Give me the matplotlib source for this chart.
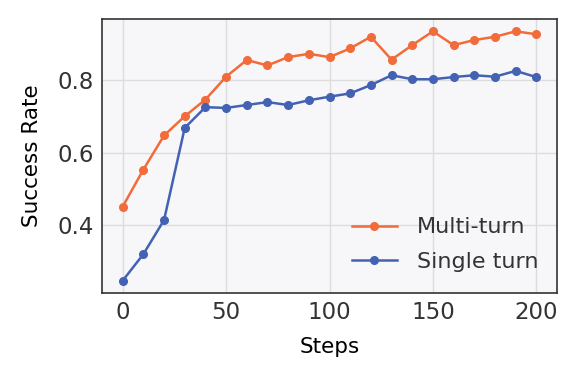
import matplotlib.pyplot as plt

steps = [0, 10, 20, 30, 40, 50, 60, 70, 80, 90, 100,
         110, 120, 130, 140, 150, 160, 170, 180, 190, 200]
multi_turn = [0.452, 0.554, 0.648, 0.701, 0.747, 0.810, 0.856, 0.841, 0.864, 0.873, 0.864,
              0.888, 0.920, 0.857, 0.897, 0.935, 0.897, 0.911, 0.920, 0.935, 0.927]
single_turn = [0.248, 0.321, 0.415, 0.669, 0.726, 0.724, 0.732, 0.740, 0.732, 0.745, 0.755,
               0.764, 0.787, 0.814, 0.803, 0.803, 0.809, 0.814, 0.810, 0.826, 0.809]

fig = plt.figure(figsize=(5.82, 3.8), dpi=100)
ax = fig.add_axes([102 / 582, 1 - 293 / 380, 455 / 582, 274 / 380])
ax.set_facecolor('#f7f7f9')

ax.plot(steps, multi_turn, color='#f26b3a', marker='o', markersize=5.5, linewidth=1.8, label='Multi-turn', zorder=3)
ax.plot(steps, single_turn, color='#4462b3', marker='o', markersize=5.5, linewidth=1.8, label='Single turn', zorder=3)

ax.set_xlim(-10, 210)
ax.set_ylim(0.214, 0.969)
ax.set_xticks([0, 50, 100, 150, 200])
ax.set_yticks([0.4, 0.6, 0.8])
ax.grid(True, color='#dcdcdc', linewidth=1.0)
ax.set_axisbelow(True)

for s in ax.spines.values():
    s.set_color('#333333')
    s.set_linewidth(1.2)

ax.tick_params(axis='both', labelsize=16.5, colors='#333333', length=0, pad=6)
ax.set_xlabel('Steps', fontsize=15.5, labelpad=9)
ax.set_ylabel('Success Rate', fontsize=15.5, labelpad=11)

leg = ax.legend(loc='lower right', bbox_to_anchor=(1.005, 0.0), fontsize=16, frameon=False,
                handlelength=2.0, borderaxespad=0.55, labelspacing=0.65, handletextpad=0.9)
for t in leg.get_texts():
    t.set_color('#333333')

fig.savefig('out.png', dpi=100)
